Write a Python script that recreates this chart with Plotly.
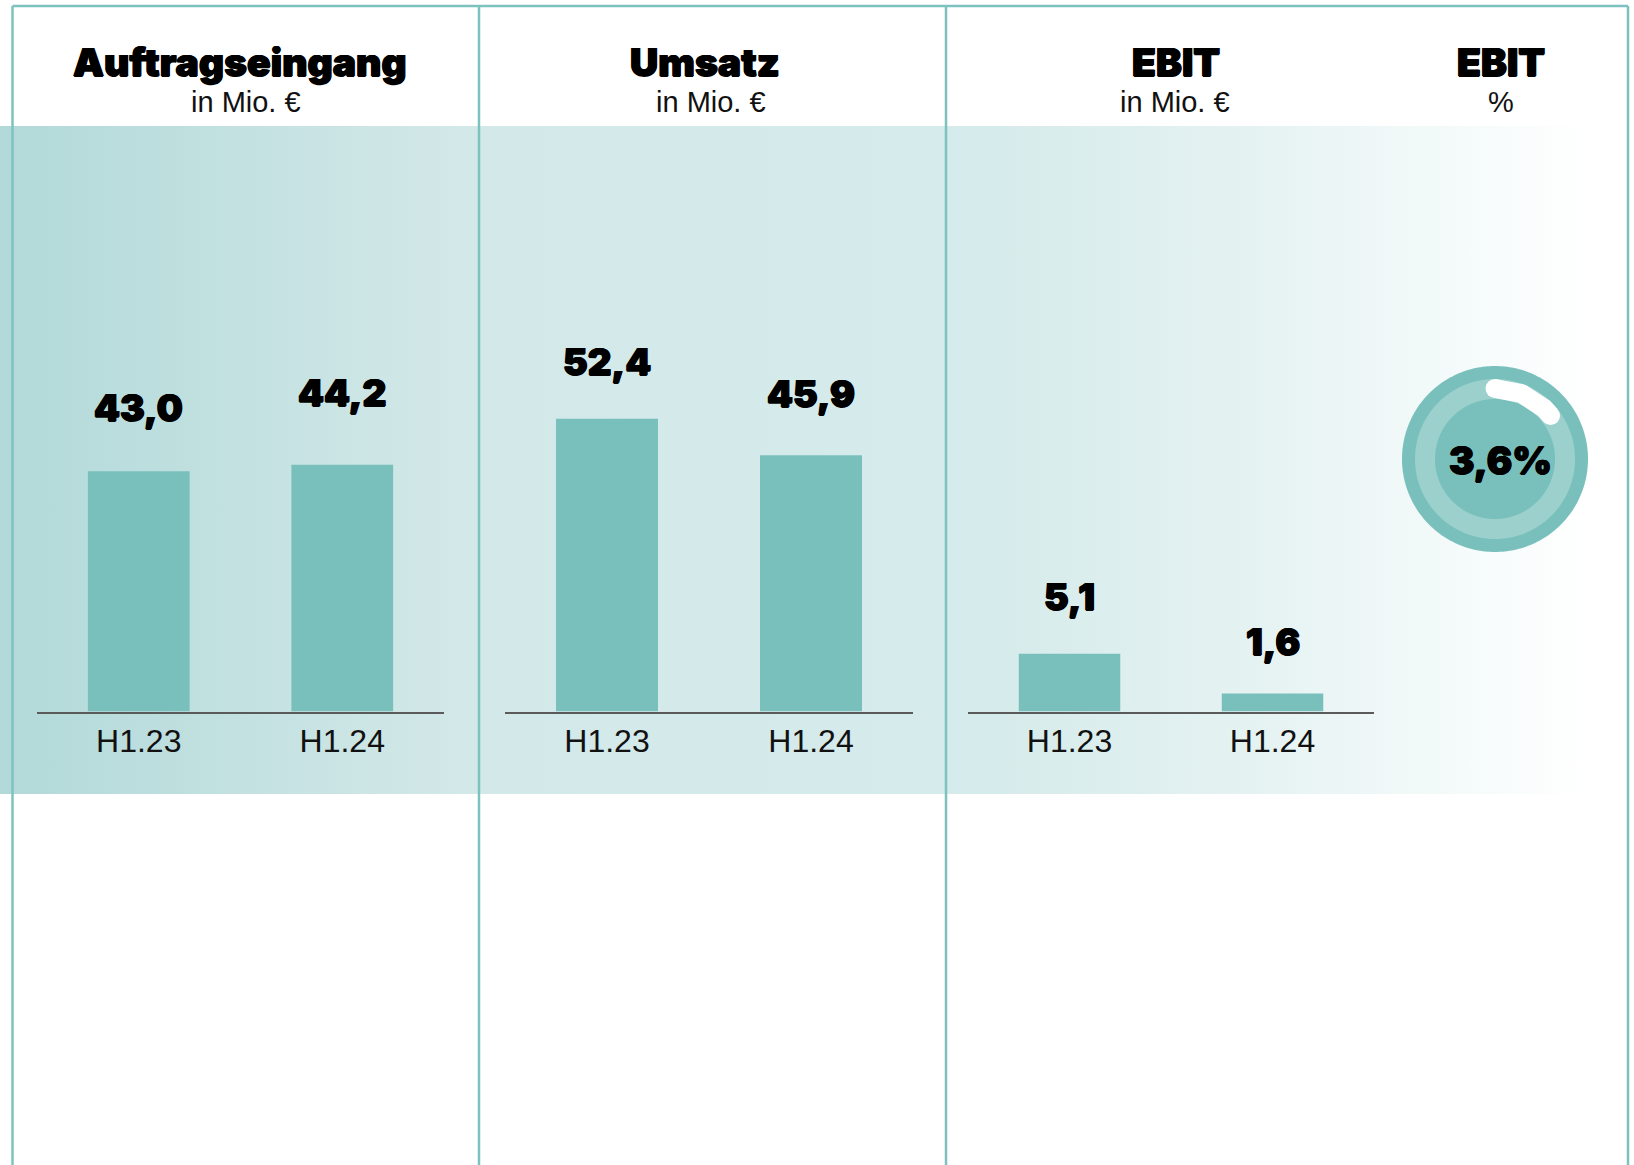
import numpy as np
import plotly.graph_objects as go

# ---------------- data ----------------
panel_titles = ["Auftragseingang", "Umsatz", "EBIT"]
panel_units = ["in Mio. €", "in Mio. €", "in Mio. €"]
categories = ["H1.23", "H1.24"]
auftragseingang = [43.0, 44.2]
umsatz = [52.4, 45.9]
ebit = [5.1, 1.6]
margin_title = "EBIT"
margin_unit = "%"
ebit_margin = 3.6

# ---------------- style ----------------
W, H = 1634, 1165
TEAL = "#79c0bc"
TEAL_LIGHT = "#9bd0cc"
BORDER = "#7cc3bf"
HEAVY = dict(family="Inter, Noto Sans, sans-serif", weight=900, color="#000000",
             shadow="0.7px 0 0 #000, -0.7px 0 0 #000, 0 0.5px 0 #000")
REG = "Liberation Sans, Arial, sans-serif"

fig = go.Figure()

# background band (pixel overlay axis x/y)
fig.add_trace(go.Scatter(
    x=[0, 1584, 1584, 0, 0], y=[126, 126, 794, 794, 126],
    fill="toself", mode="none", hoverinfo="skip", showlegend=False,
    fillgradient=dict(type="horizontal", colorscale=[
        [0.0, "#b2d9d9"], [0.29, "#d3e8e8"], [0.63, "#d6ebeb"],
        [0.79, "#e5f2f2"], [0.915, "#f4fafa"], [1.0, "#ffffff"]]),
    xaxis="x", yaxis="y"))

# donut decoration
cx, cy = 1495, 459
t = np.linspace(0, 2 * np.pi, 241)
for r, col in [(93, TEAL), (80, TEAL_LIGHT), (60, TEAL)]:
    fig.add_trace(go.Scatter(
        x=cx + r * np.sin(t), y=cy - r * np.cos(t), fill="toself", mode="none",
        fillcolor=col, hoverinfo="skip", showlegend=False, xaxis="x", yaxis="y"))
ta = np.radians(np.linspace(0, 52, 40))
ra = 70.5
fig.add_trace(go.Scatter(
    x=cx + ra * np.sin(ta), y=cy - ra * np.cos(ta), mode="lines",
    line=dict(color="white", width=19), hoverinfo="skip", showlegend=False,
    xaxis="x", yaxis="y"))
fig.add_trace(go.Scatter(
    x=[cx + ra * np.sin(ta[0]), cx + ra * np.sin(ta[-1])],
    y=[cy - ra * np.cos(ta[0]), cy - ra * np.cos(ta[-1])], mode="markers",
    marker=dict(color="white", size=19, line=dict(width=0)), hoverinfo="skip",
    showlegend=False, xaxis="x", yaxis="y"))

# bar panels
series = [auftragseingang, umsatz, ebit]
domains = [(37, 444), (505, 913), (968, 1374)]
px_per_unit = [5.585, 5.585, 11.3]
label_shift = [[64, 72], [57, 62], [57, 52]]
base_px, top_px = 711.5, 126
for i, vals in enumerate(series):
    k = i + 2
    fig.add_trace(go.Bar(
        x=categories, y=vals, marker=dict(color=TEAL, line=dict(width=0)),
        hoverinfo="skip", showlegend=False, xaxis=f"x{k}", yaxis=f"y{k}"))
    fig.update_layout(**{
        f"xaxis{k}": dict(domain=[domains[i][0] / W, domains[i][1] / W], anchor=f"y{k}",
                          showline=True, linecolor="#5a5a5a", linewidth=2, ticks="",
                          showgrid=False, zeroline=False, fixedrange=True,
                          tickfont=dict(family=REG, size=32, color="#111111")),
        f"yaxis{k}": dict(domain=[1 - base_px / H, 1 - top_px / H], anchor=f"x{k}",
                          range=[0, (base_px - top_px) / px_per_unit[i]],
                          visible=False, fixedrange=True),
    })
    for j, (c, v) in enumerate(zip(categories, vals)):
        fig.add_annotation(x=c, y=v, xref=f"x{k}", yref=f"y{k}",
                           text=f"{v:.1f}".replace(".", ","), showarrow=False,
                           yanchor="middle", yshift=label_shift[i][j],
                           font=dict(size=37, **HEAVY))

# titles
title_x = [240, 705, 1176, 1501]
unit_x = [246, 711, 1175, 1501]
titles = panel_titles + [margin_title]
units = panel_units + [margin_unit]
for tx, ux, tt, uu in zip(title_x, unit_x, titles, units):
    fig.add_annotation(x=tx, y=61, xref="x", yref="y", text=tt, xanchor="center",
                       showarrow=False, yanchor="middle", font=dict(size=39, **HEAVY))
    fig.add_annotation(x=ux, y=102, xref="x", yref="y", text=uu, xanchor="center",
                       showarrow=False, yanchor="middle",
                       font=dict(family=REG, size=29, color="#111111"))

# donut label
fig.add_annotation(x=1500, y=460, xref="x", yref="y", xanchor="center",
                   text=f"{ebit_margin:.1f}%".replace(".", ","), showarrow=False,
                   yanchor="middle", font=dict(size=38, **HEAVY))

# frame lines
for (x0, y0, x1, y1) in [(12.5, 6, 1628, 6), (12.5, 6, 12.5, H), (479, 6, 479, H),
                         (946, 6, 946, H), (1628, 6, 1628, H)]:
    fig.add_shape(type="line", x0=x0, y0=y0, x1=x1, y1=y1, xref="x", yref="y",
                  line=dict(color=BORDER, width=2.5), layer="above")

fig.update_layout(
    width=W, height=H, margin=dict(l=0, r=0, t=0, b=0),
    paper_bgcolor="white", plot_bgcolor="rgba(0,0,0,0)",
    bargap=0.5, showlegend=False,
    xaxis=dict(domain=[0, 1], range=[0, W], visible=False, fixedrange=True),
    yaxis=dict(domain=[0, 1], range=[H, 0], visible=False, fixedrange=True),
)

fig.write_html("out.html", config={"displayModeBar": False},
               post_script="document.body.style.margin='0';")
